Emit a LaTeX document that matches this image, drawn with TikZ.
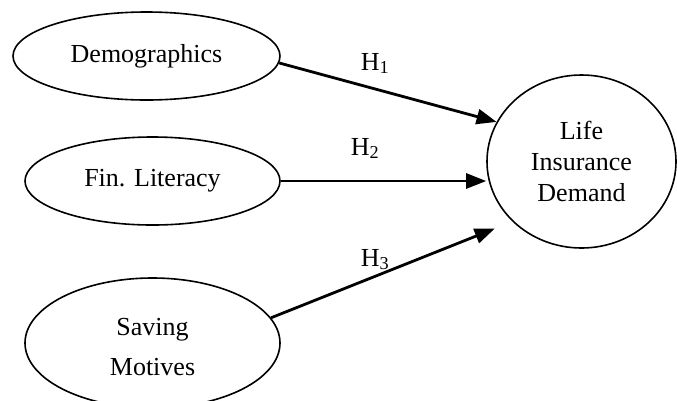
\documentclass[tikz,border=0pt]{standalone}
\usepackage{fontspec}
\setmainfont{Liberation Serif}
\usetikzlibrary{shapes.geometric,arrows.meta}
\begin{document}
\begin{tikzpicture}[x=1pt,y=-1pt,
  every node/.style={font=\fontsize{26}{31}\selectfont},
  oval/.style={draw,ellipse,line width=1.6pt,inner sep=0pt,align=center},
  arr/.style={line width=2.8pt,-{Triangle[length=20pt,width=15pt]}},
  hyp/.style={anchor=base}]
\useasboundingbox (0,0) rectangle (677,400);
\node[oval,minimum width=267pt,minimum height=88pt] (demo) at (146.5,56) {Demographics};
\node[oval,minimum width=255pt,minimum height=88pt] (fin) at (152.5,181) {Fin. Literacy};
\node[oval,minimum width=255pt,minimum height=130pt,
  label={[font=\fontsize{26}{40}\selectfont,align=center,yshift=-4pt]center:Saving\\Motives}] (sav) at (152.5,343) {};
\node[oval,minimum width=189pt,minimum height=173pt] (lid) at (581.5,161.5) {Life\\Insurance\\Demand};
\node[hyp] (h1) at (375,70) {H\textsubscript{1}};
\node[hyp] (h2) at (365,155) {H\textsubscript{2}};
\node[hyp] (h3) at (375,266) {H\textsubscript{3}};
\draw[arr] (demo.-3) -- (lid.155);
\draw[arr] (fin.east) -- (fin.east -| lid.west);
\draw[arr, shorten >=19pt] (sav.12) -- (lid.221);
\end{tikzpicture}
\end{document}
